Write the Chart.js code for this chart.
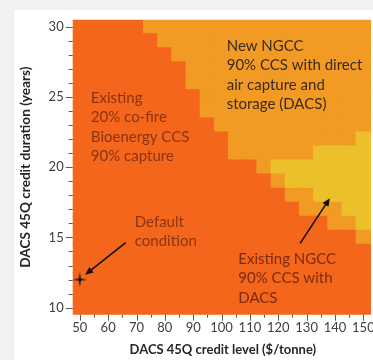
<!DOCTYPE html>
<html>
<head>
<meta charset="utf-8">
<script src="https://cdn.jsdelivr.net/npm/chart.js@4.4.1/dist/chart.umd.min.js"></script>
<style>
  html, body { margin: 0; padding: 0; background: #f1f1f1; }
  #wrap { position: absolute; left: 14px; top: 10px; width: 359px; height: 350px; background: #fff; }
</style>
</head>
<body>
<div id="wrap"><canvas id="chart" width="359" height="350"></canvas></div>
<script>
const creditLevels = [50, 55, 60, 65, 70, 75, 80, 85, 90, 95, 100, 105, 110, 115, 120, 125, 130, 135, 140, 145, 150];
const durations = [10, 11, 12, 13, 14, 15, 16, 17, 18, 19, 20, 21, 22, 23, 24, 25, 26, 27, 28, 29, 30];

// for each duration: highest credit level where the existing co-fire bioenergy plant wins
const bioenergyMax = [150, 150, 150, 150, 150, 145, 135, 125, 120, 115, 110, 100, 100, 95, 90, 90, 85, 85, 80, 75, 70];
// for each duration: first credit level where existing NGCC + DACS wins (null = never)
const ngccDacsMin = [null, null, null, null, null, null, 150, 145, 135, 125, 120, 135, 150, null, null, null, null, null, null, null, null];

const defaultCondition = [{ x: 50, y: 12 }];

const colors = { bio: '#f4661b', newNgcc: '#f19b25', ngccDacs: '#ecc02b' };

const labels = [
    { lines: ['Existing', '20% co-fire', 'Bioenergy CCS', '90% capture'], x: 53.9, y: 24.93, color: '#8c3410' },
    { lines: ['New NGCC', '90% CCS with direct', 'air capture and', 'storage (DACS)'], x: 101.8, y: 28.65, color: '#3b2a1e' },
    { lines: ['Default', 'condition'], x: 69.4, y: 16.12, color: '#8c3410' },
    { lines: ['Existing NGCC', '90% CCS with', 'DACS'], x: 105.9, y: 13.47, color: '#7e2a0e' },
];
const arrows = [
    { from: [66.2, 14.63], to: [51.9, 12.35] },
    { from: [127.7, 14.58], to: [138.2, 17.79] },
];

function cellColor(i, c) {
    if (c <= bioenergyMax[i]) return colors.bio;
    if (ngccDacsMin[i] !== null && c >= ngccDacsMin[i]) return colors.ngccDacs;
    return colors.newNgcc;
}

// four-pointed star marker
const star = document.createElement('canvas');
star.width = 18; star.height = 18;
(() => {
    const g = star.getContext('2d');
    g.fillStyle = '#111';
    g.beginPath();
    for (let k = 0; k < 8; k++) {
        const r = k % 2 === 0 ? 7.5 : 1.5;
        const a = k * Math.PI / 4 - Math.PI / 2;
        const px = 9 + r * Math.cos(a), py = 9 + r * Math.sin(a);
        k === 0 ? g.moveTo(px, py) : g.lineTo(px, py);
    }
    g.closePath();
    g.fill();
})();

const datasets = [{
    type: 'scatter',
    data: defaultCondition,
    pointStyle: star,
    pointRadius: 9,
}];
durations.forEach((d, i) => {
    datasets.push({
        type: 'bar',
        data: creditLevels.map(c => ({ x: c, y: [d - 0.5, d + 0.5] })),
        backgroundColor: creditLevels.map(c => cellColor(i, c)),
        borderWidth: 0,
        grouped: false,
        barPercentage: 1,
        categoryPercentage: 1,
        inflateAmount: 0.6,
    });
});

const tickFont = { family: 'Lato', size: 13 };

const noPad = s => { s.paddingLeft = 0; s.paddingRight = 0; s.paddingTop = 0; s.paddingBottom = 0; };

const overlay = {
    id: 'overlay',
    afterDraw(chart) {
        const { ctx } = chart;
        const xs = chart.scales.x, ys = chart.scales.y;
        ctx.save();
        // tick marks
        ctx.strokeStyle = '#5a5a5a';
        ctx.lineWidth = 1;
        ctx.beginPath();
        creditLevels.forEach(c => {
            const px = Math.round(xs.getPixelForValue(c)) + 0.5;
            const len = c % 10 === 0 ? 6 : 3;
            ctx.moveTo(px, ys.bottom);
            ctx.lineTo(px, ys.bottom + len);
        });
        durations.forEach(d => {
            const py = Math.round(ys.getPixelForValue(d)) + 0.5;
            const len = d % 5 === 0 ? 7 : 4;
            ctx.moveTo(xs.left, py);
            ctx.lineTo(xs.left - len, py);
        });
        ctx.stroke();

        // arrows
        ctx.strokeStyle = '#111';
        ctx.fillStyle = '#111';
        ctx.lineWidth = 1.6;
        arrows.forEach(a => {
            const x1 = xs.getPixelForValue(a.from[0]), y1 = ys.getPixelForValue(a.from[1]);
            const x2 = xs.getPixelForValue(a.to[0]), y2 = ys.getPixelForValue(a.to[1]);
            const ang = Math.atan2(y2 - y1, x2 - x1);
            ctx.beginPath();
            ctx.moveTo(x1, y1);
            ctx.lineTo(x2 - 5 * Math.cos(ang), y2 - 5 * Math.sin(ang));
            ctx.stroke();
            ctx.beginPath();
            ctx.moveTo(x2, y2);
            ctx.lineTo(x2 - 8 * Math.cos(ang) + 3.5 * Math.sin(ang), y2 - 8 * Math.sin(ang) - 3.5 * Math.cos(ang));
            ctx.lineTo(x2 - 8 * Math.cos(ang) - 3.5 * Math.sin(ang), y2 - 8 * Math.sin(ang) + 3.5 * Math.cos(ang));
            ctx.closePath();
            ctx.fill();
        });

        // region labels
        ctx.font = '15px Lato';
        ctx.textBaseline = 'middle';
        ctx.textAlign = 'left';
        labels.forEach(l => {
            ctx.fillStyle = l.color;
            const px = xs.getPixelForValue(l.x), py = ys.getPixelForValue(l.y);
            l.lines.forEach((t, k) => ctx.fillText(t, px, py + k * 19.5));
        });
        ctx.restore();
    }
};

new Chart(document.getElementById('chart'), {
    data: { datasets },
    options: {
        responsive: false,
        animation: false,
        layout: { autoPadding: false, padding: { top: 9.7, right: 0, left: 0, bottom: 0 } },
        plugins: { legend: { display: false }, tooltip: { enabled: false } },
        scales: {
            x: {
                type: 'linear',
                min: 47.5,
                max: 153.4,
                offset: false,
                afterBuildTicks: s => { s.ticks = creditLevels.map(v => ({ value: v })); },
                afterFit: s => { s.height = 45.3; noPad(s); },
                grid: { display: false, drawTicks: false },
                border: { display: false },
                ticks: {
                    autoSkip: false,
                    maxRotation: 0,
                    padding: 5,
                    color: '#404040',
                    font: tickFont,
                    callback: v => (v % 10 === 0 ? v : ''),
                },
                title: {
                    display: true,
                    text: 'DACS 45Q credit level ($/tonne)',
                    color: '#262626',
                    font: { family: 'Lato', size: 13, weight: 'bold' },
                    padding: { top: 0, bottom: 2 },
                },
            },
            y: {
                type: 'linear',
                min: 9.5,
                max: 30.5,
                afterBuildTicks: s => { s.ticks = durations.map(v => ({ value: v })); },
                afterFit: s => { s.width = 58.7; noPad(s); },
                grid: { display: false, drawTicks: false },
                border: { display: false },
                ticks: {
                    autoSkip: false,
                    padding: 9,
                    color: '#404040',
                    font: tickFont,
                    callback: v => (v % 5 === 0 ? v : ''),
                },
                title: {
                    display: true,
                    text: 'DACS 45Q credit duration (years)',
                    color: '#262626',
                    font: { family: 'Lato', size: 13.6, weight: 'bold' },
                    padding: { top: 3, bottom: 0 },
                },
            },
        },
    },
    plugins: [overlay],
});
</script>
</body>
</html>
